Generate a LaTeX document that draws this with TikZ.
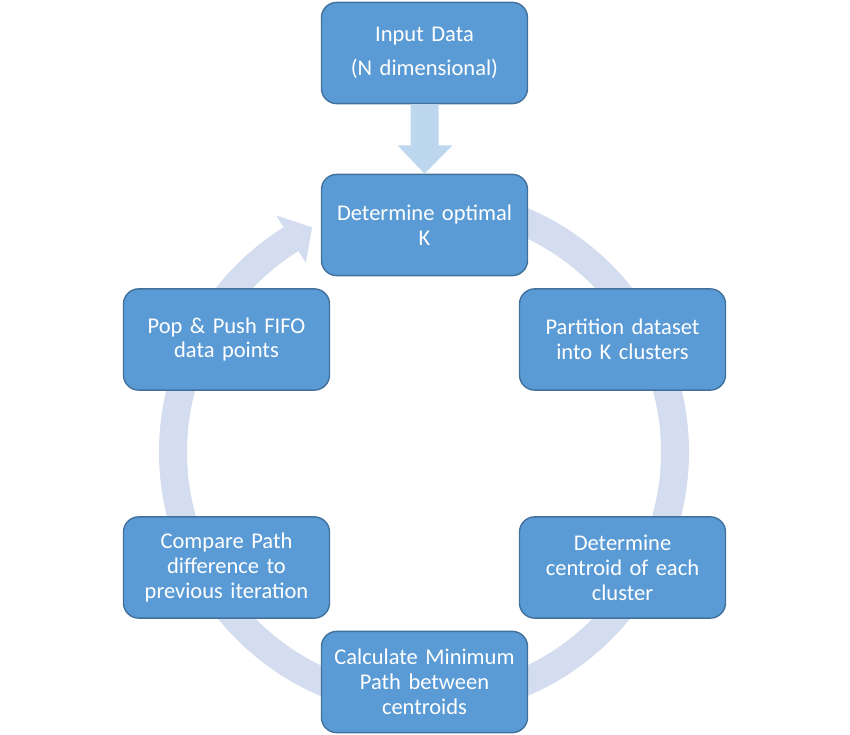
\documentclass[tikz,border=0pt]{standalone}
\usepackage{fontspec}
\setmainfont{Carlito}
\usetikzlibrary{calc}
\definecolor{boxfill}{HTML}{5B9BD5}
\definecolor{boxline}{HTML}{41719C}
\definecolor{ringcol}{HTML}{D3DDEF}
\definecolor{downcol}{HTML}{BDD7EE}
\begin{document}
\begin{tikzpicture}[x=0.025cm, y=0.025cm,
	proc/.style={draw=boxline, fill=boxfill, line width=1pt, rounded corners=0.38cm,
		minimum width=5.15cm, minimum height=2.53cm, text width=4.9cm, align=center,
		inner sep=0pt, text=white, font=\fontsize{16}{17.7}\selectfont}]
			%%%%% START %%%%%
			\useasboundingbox (0, 0) rectangle (850, 735);
			
			\coordinate (ctr) at (424, 283);
			\draw[ringcol, line width=0.7cm] ([shift={(90:251)}]ctr) arc[start angle=90, end angle=-238.5, radius=251];
			\fill[ringcol] ([shift={(122:279)}]ctr) -- ([shift={(116.5:251)}]ctr) -- ([shift={(122:223)}]ctr) -- cycle;
			
			\node[proc, font=\fontsize{16}{24}\selectfont] (input) at (424.5, 682) {Input Data\\(N dimensional)};
			\node[proc] (detk) at (424.5, 510) {Determine optimal\\K};
			\node[proc] (part) at (622.5, 395.5) {Partition dataset\\into K clusters};
			\node[proc] (cent) at (622.5, 167.5) {Determine\\centroid of each\\cluster};
			\node[proc] (calc) at (424.5, 53) {Calculate Minimum\\Path between\\centroids};
			\node[proc] (cmp) at (226.5, 167.5) {Compare Path\\difference to\\previous iteration};
			\node[proc] (pop) at (226.5, 395.5) {Pop \& Push FIFO\\data points};
			
			\fill[downcol] ($(input.south)+(-14, 0)$) -- ($(input.south)+(-14, -41)$) -- ($(input.south)+(-27, -41)$)
				-- (detk.north) -- ($(input.south)+(28, -41)$) -- ($(input.south)+(14, -41)$) -- ($(input.south)+(14, 0)$) -- cycle;
			
			%%%%% END %%%%%
		\end{tikzpicture}
\end{document}
